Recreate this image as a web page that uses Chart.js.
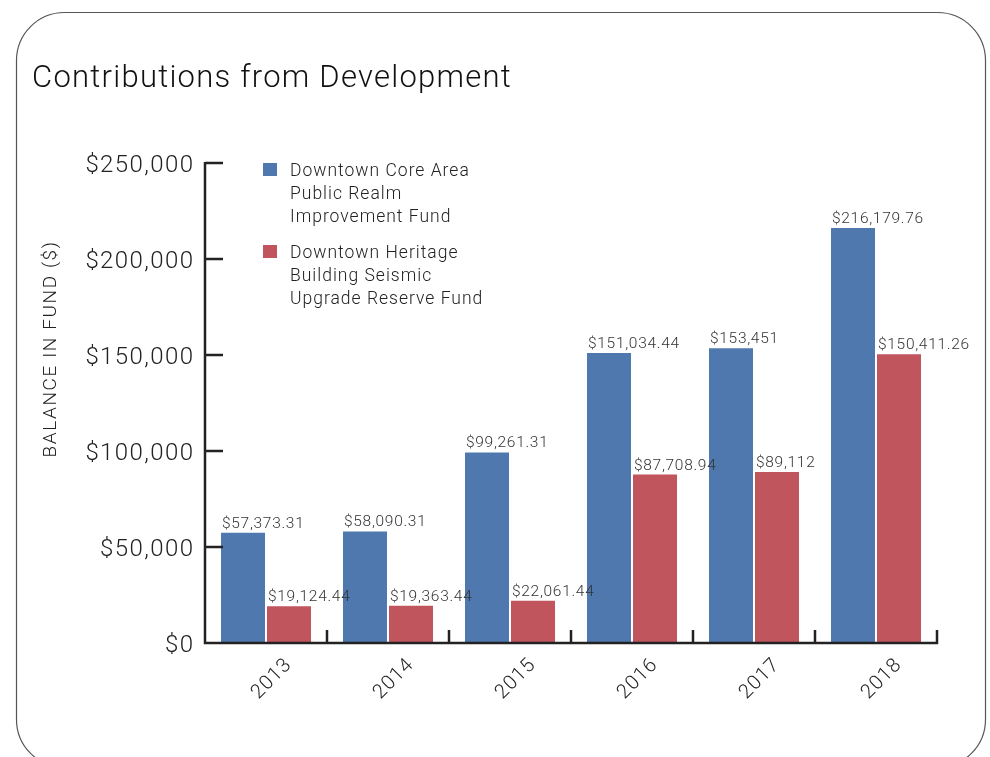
<!DOCTYPE html>
<html>
<head>
<meta charset="utf-8">
<script src="https://cdn.jsdelivr.net/npm/chart.js@4"></script>
<style>
  html, body { margin: 0; padding: 0; background: #fff; }
  #wrap { position: relative; width: 990px; height: 757px; }
</style>
</head>
<body>
<div id="wrap"><canvas id="myChart"></canvas></div>
<script>
const years = ['2013', '2014', '2015', '2016', '2017', '2018'];
const coreAreaFund = [57373.31, 58090.31, 99261.31, 151034.44, 153451, 216179.76];
const heritageFund = [19124.44, 19363.44, 22061.44, 87708.94, 89112, 150411.26];
const coreAreaLabel = ['Downtown Core Area', 'Public Realm', 'Improvement Fund'];
const heritageLabel = ['Downtown Heritage', 'Building Seismic', 'Upgrade Reserve Fund'];
const yTicks = [0, 50000, 100000, 150000, 200000, 250000];

const FONT = "Roboto, 'Liberation Sans', sans-serif";
const INK = '#222';
const BLUE = 'rgb(79, 120, 174)';
const RED = 'rgb(192, 85, 94)';

// valeur affichée au-dessus des barres
function fmtValue(v) {
  const hasCents = Math.round(v * 100) % 100 !== 0;
  return '$' + v.toLocaleString('en-US', {
    minimumFractionDigits: hasCents ? 2 : 0,
    maximumFractionDigits: 2
  });
}

// cadre arrondi + titre
const framePlugin = {
  id: 'frame',
  beforeDraw(chart) {
    const ctx = chart.ctx;
    ctx.save();
    ctx.fillStyle = '#fff';
    ctx.fillRect(0, 0, chart.width, chart.height);
    ctx.strokeStyle = '#555';
    ctx.lineWidth = 1.2;
    ctx.beginPath();
    ctx.roundRect(16.5, 12.5, 969, 755, 48);
    ctx.stroke();
    ctx.fillStyle = '#111';
    ctx.font = '300 31px ' + FONT;
    ctx.letterSpacing = '1.25px';
    ctx.textBaseline = 'alphabetic';
    ctx.fillText('Contributions from Development', 32, 87);
    ctx.restore();
  }
};

// axes, graduations intérieures, étiquettes et légende
const axesPlugin = {
  id: 'axes',
  afterDatasetsDraw(chart) {
    const ctx = chart.ctx;
    const xs = chart.scales.x;
    const ys = chart.scales.y;
    const area = chart.chartArea;
    const half = (xs.getPixelForValue(1) - xs.getPixelForValue(0)) / 2;
    ctx.save();

    // étiquettes de valeurs
    ctx.font = '300 15.5px ' + FONT;
    ctx.letterSpacing = '0.7px';
    ctx.fillStyle = '#333';
    ctx.textAlign = 'left';
    ctx.textBaseline = 'alphabetic';
    chart.data.datasets.forEach((ds, di) => {
      chart.getDatasetMeta(di).data.forEach((bar, i) => {
        ctx.fillText(fmtValue(ds.data[i]), bar.x - bar.width / 2 + 1, bar.y - 5);
      });
    });

    // axes
    ctx.strokeStyle = INK;
    ctx.lineWidth = 2.5;
    ctx.lineCap = 'butt';
    const y0 = ys.getPixelForValue(0);
    ctx.beginPath();
    ctx.moveTo(area.left, ys.getPixelForValue(250000) - 1);
    ctx.lineTo(area.left, y0 + 1.2);
    ctx.moveTo(area.left - 1.2, y0);
    ctx.lineTo(area.right + 1.2, y0);
    yTicks.slice(1).forEach(v => {
      const y = ys.getPixelForValue(v);
      ctx.moveTo(area.left, y);
      ctx.lineTo(area.left + 18, y);
    });
    years.forEach((yr, i) => {
      const x = xs.getPixelForValue(i) + half;
      ctx.moveTo(x, y0);
      ctx.lineTo(x, y0 - 13);
    });
    ctx.stroke();

    // graduations de l'axe y
    ctx.fillStyle = INK;
    ctx.font = '300 24px ' + FONT;
    ctx.letterSpacing = '1.4px';
    ctx.textAlign = 'right';
    ctx.textBaseline = 'middle';
    yTicks.forEach(v => {
      ctx.fillText('$' + v.toLocaleString('en-US'), area.left - 10.6, ys.getPixelForValue(v) + 3);
    });

    // années inclinées
    ctx.font = '300 20px ' + FONT;
    ctx.letterSpacing = '1px';
    ctx.textAlign = 'center';
    years.forEach((yr, i) => {
      ctx.save();
      ctx.translate(xs.getPixelForValue(i) + 6, 679);
      ctx.rotate(-Math.PI / 4);
      ctx.fillText(yr, 0, 0);
      ctx.restore();
    });

    // titre de l'axe y
    ctx.save();
    ctx.font = '300 19px ' + FONT;
    ctx.letterSpacing = '1.6px';
    ctx.translate(51, 349);
    ctx.rotate(-Math.PI / 2);
    ctx.fillText('BALANCE IN FUND ($)', 0, 0);
    ctx.restore();

    // légende
    ctx.textAlign = 'left';
    ctx.textBaseline = 'alphabetic';
    ctx.font = '300 17.5px ' + FONT;
    ctx.letterSpacing = '1px';
    const entries = [
      { lines: coreAreaLabel, color: BLUE, base: 176 },
      { lines: heritageLabel, color: RED, base: 258 }
    ];
    entries.forEach(e => {
      ctx.fillStyle = e.color;
      ctx.fillRect(area.left + 58, e.base - 13, 14, 13);
      ctx.fillStyle = INK;
      e.lines.forEach((t, k) => ctx.fillText(t, area.left + 85, e.base + k * 23));
    });
    ctx.restore();
  }
};

const ctx = document.getElementById('myChart').getContext('2d');
new Chart(ctx, {
  type: 'bar',
  data: {
    labels: years,
    datasets: [
      {
        label: coreAreaLabel.join(' '),
        data: coreAreaFund,
        backgroundColor: BLUE,
        borderWidth: 0,
        categoryPercentage: 0.754,
        barPercentage: 0.957
      },
      {
        label: heritageLabel.join(' '),
        data: heritageFund,
        backgroundColor: RED,
        borderWidth: 0,
        categoryPercentage: 0.754,
        barPercentage: 0.957
      }
    ]
  },
  options: {
    responsive: true,
    maintainAspectRatio: false,
    animation: false,
    layout: { padding: { left: 0, right: 53, top: 163, bottom: 0 } },
    plugins: {
      legend: { display: false },
      title: { display: false },
      tooltip: { enabled: false }
    },
    scales: {
      x: {
        grid: { display: false, drawTicks: false },
        border: { display: false },
        ticks: { display: false },
        afterFit: s => { s.height = 114; }
      },
      y: {
        min: 0,
        max: 250000,
        afterBuildTicks: s => { s.ticks = yTicks.map(v => ({ value: v })); },
        grid: { display: false, drawTicks: false },
        border: { display: false },
        ticks: { display: false },
        afterFit: s => { s.width = 205; }
      }
    }
  },
  plugins: [framePlugin, axesPlugin]
});
</script>
</body>
</html>
